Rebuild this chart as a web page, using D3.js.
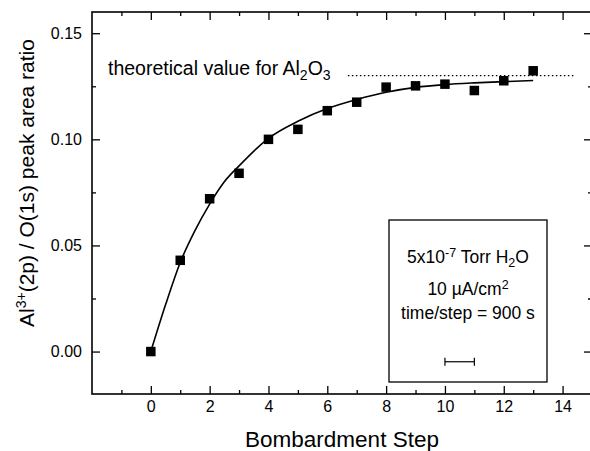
<!DOCTYPE html>
<html>
<head>
<meta charset="utf-8">
<script src="https://cdn.jsdelivr.net/npm/d3@7"></script>
<style>
  body { margin: 0; background: #fff; }
  svg { display: block; font-family: "Liberation Sans", Arial, sans-serif; }
</style>
</head>
<body>
<script>
// measured points
var steps = [0, 1, 2, 3, 4, 5, 6, 7, 8, 9, 10, 11, 12, 13];
var ratios = [0.000, 0.043, 0.072, 0.084, 0.100, 0.1047, 0.1135, 0.1175, 0.1246, 0.1252, 0.1260, 0.1230, 0.1276, 0.1323];

// fitted curve
var fitX = [0, 0.5, 1, 1.5, 2, 2.5, 3, 4, 5, 6, 7, 8, 9, 10, 11, 12, 13];
var fitY = [0, 0.022, 0.042, 0.057, 0.0695, 0.080, 0.0875, 0.1005, 0.1085, 0.1145, 0.1188, 0.1222, 0.1245, 0.1258, 0.1266, 0.1272, 0.1277];

// theoretical Al2O3 line
var theoX = [6.7, 14.4];
var theoValue = 0.13;

// scale bar in the inset box (one step)
var barX = [10, 11];
var barY = -0.0048;

var xMajor = [0, 2, 4, 6, 8, 10, 12, 14];
var xMinor = [-1, 1, 3, 5, 7, 9, 11, 13, 15];
var yMajor = [0.00, 0.05, 0.10, 0.15];
var yMinor = [0.025, 0.075, 0.125];

var W = 590, H = 451;
var mLeft = 92, mTop = 12, mRight = 592, mBottom = 394;

var svg = d3.select("body").append("svg")
  .attr("width", W)
  .attr("height", H);

var x = d3.scaleLinear().domain([-2, 15]).range([mLeft, mRight]);
var y = d3.scaleLinear().domain([-0.02, 0.16]).range([mBottom, mTop]);

function tidy(g) {
  g.select(".domain").remove();
  g.selectAll(".tick line").attr("stroke", "#000").attr("stroke-width", 1.3);
  g.selectAll(".tick text").attr("fill", "#000").attr("font-size", 16)
    .attr("font-family", "Liberation Sans, Arial, sans-serif");
}

// bottom axis
svg.append("g").attr("transform", "translate(0," + mBottom + ")")
  .call(d3.axisBottom(x).tickValues(xMajor).tickSize(-8).tickPadding(7).tickFormat(d3.format("d")))
  .call(tidy);
svg.append("g").attr("transform", "translate(0," + mBottom + ")")
  .call(d3.axisBottom(x).tickValues(xMinor).tickSize(-4).tickFormat(""))
  .call(tidy);

// top axis
svg.append("g").attr("transform", "translate(0," + mTop + ")")
  .call(d3.axisTop(x).tickValues(xMajor).tickSize(-8).tickFormat(""))
  .call(tidy);
svg.append("g").attr("transform", "translate(0," + mTop + ")")
  .call(d3.axisTop(x).tickValues(xMinor).tickSize(-4).tickFormat(""))
  .call(tidy);

// left axis
svg.append("g").attr("transform", "translate(" + mLeft + ",0)")
  .call(d3.axisLeft(y).tickValues(yMajor).tickSize(-8).tickPadding(10).tickFormat(d3.format(".2f")))
  .call(tidy);
svg.append("g").attr("transform", "translate(" + mLeft + ",0)")
  .call(d3.axisLeft(y).tickValues(yMinor).tickSize(-4).tickFormat(""))
  .call(tidy);

// right axis
svg.append("g").attr("transform", "translate(" + mRight + ",0)")
  .call(d3.axisRight(y).tickValues(yMajor).tickSize(-8).tickFormat(""))
  .call(tidy);
svg.append("g").attr("transform", "translate(" + mRight + ",0)")
  .call(d3.axisRight(y).tickValues(yMinor).tickSize(-4).tickFormat(""))
  .call(tidy);

// frame
svg.append("rect")
  .attr("x", mLeft).attr("y", mTop)
  .attr("width", mRight - mLeft).attr("height", mBottom - mTop)
  .attr("fill", "none").attr("stroke", "#000").attr("stroke-width", 1.6);

// theoretical dotted line
svg.append("line")
  .attr("x1", x(theoX[0])).attr("x2", x(theoX[1]))
  .attr("y1", y(theoValue)).attr("y2", y(theoValue))
  .attr("stroke", "#000").attr("stroke-width", 1.2)
  .attr("stroke-dasharray", "1.5,2.5");

var theo = svg.append("text")
  .attr("x", 108).attr("y", 75)
  .attr("font-size", 19.5).attr("fill", "#000");
theo.append("tspan").text("theoretical value for Al");
theo.append("tspan").attr("font-size", 14).attr("dy", 5).text("2");
theo.append("tspan").attr("dy", -5).text("O");
theo.append("tspan").attr("font-size", 14).attr("dy", 5).text("3");

// fit curve
var fit = fitX.map(function(d, i) { return [d, fitY[i]]; });
svg.append("path")
  .datum(fit)
  .attr("fill", "none")
  .attr("stroke", "#000")
  .attr("stroke-width", 1.6)
  .attr("d", d3.line()
    .x(function(d) { return x(d[0]); })
    .y(function(d) { return y(d[1]); })
    .curve(d3.curveMonotoneX));

// squares
var sz = 9.5;
svg.selectAll("rect.pt")
  .data(steps)
  .enter().append("rect")
  .attr("class", "pt")
  .attr("x", function(d) { return x(d) - sz / 2; })
  .attr("y", function(d, i) { return y(ratios[i]) - sz / 2; })
  .attr("width", sz).attr("height", sz)
  .attr("fill", "#000");

// inset box
var bx = 389, by = 220, bw = 158, bh = 162;
svg.append("rect")
  .attr("x", bx).attr("y", by).attr("width", bw).attr("height", bh)
  .attr("fill", "#fff").attr("stroke", "#000").attr("stroke-width", 1.3);

var cx = bx + bw / 2;
var l1 = svg.append("text").attr("x", cx).attr("y", 263).attr("text-anchor", "middle")
  .attr("font-size", 17.5).attr("fill", "#000");
l1.append("tspan").text("5x10");
l1.append("tspan").attr("font-size", 12.5).attr("dy", -6).text("-7");
l1.append("tspan").attr("dy", 6).text(" Torr H");
l1.append("tspan").attr("font-size", 12.5).attr("dy", 4).text("2");
l1.append("tspan").attr("dy", -4).text("O");

var l2 = svg.append("text").attr("x", cx).attr("y", 295).attr("text-anchor", "middle")
  .attr("font-size", 17.5).attr("fill", "#000");
l2.append("tspan").text("10 \u00b5A/cm");
l2.append("tspan").attr("font-size", 12.5).attr("dy", -6).text("2");

svg.append("text").attr("x", cx).attr("y", 319).attr("text-anchor", "middle")
  .attr("font-size", 17.5).attr("fill", "#000")
  .text("time/step = 900 s");

// one-step scale bar
svg.append("line")
  .attr("x1", x(barX[0])).attr("x2", x(barX[1]))
  .attr("y1", y(barY)).attr("y2", y(barY))
  .attr("stroke", "#000").attr("stroke-width", 1.2);
svg.selectAll("line.cap")
  .data(barX)
  .enter().append("line")
  .attr("class", "cap")
  .attr("x1", function(d) { return x(d); }).attr("x2", function(d) { return x(d); })
  .attr("y1", y(barY) - 4).attr("y2", y(barY) + 4)
  .attr("stroke", "#000").attr("stroke-width", 1.2);

// axis titles
svg.append("text")
  .attr("x", (mLeft + mRight) / 2).attr("y", 447)
  .attr("text-anchor", "middle")
  .attr("font-size", 22.5).attr("fill", "#000")
  .text("Bombardment Step");

var yl = svg.append("text")
  .attr("transform", "translate(34,183) rotate(-90)")
  .attr("text-anchor", "middle")
  .attr("font-size", 21).attr("fill", "#000");
yl.append("tspan").text("Al");
yl.append("tspan").attr("font-size", 14).attr("dy", -8).text("3+");
yl.append("tspan").attr("dy", 8).text("(2p) / O(1s) peak area ratio");
</script>
</body>
</html>
